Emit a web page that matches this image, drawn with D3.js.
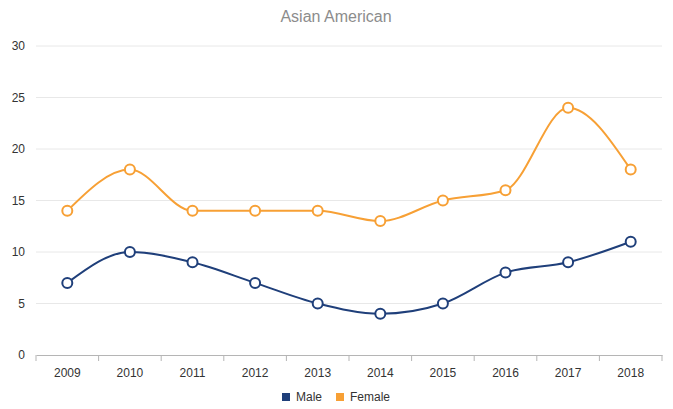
<!DOCTYPE html>
<html>
<head>
<meta charset="utf-8">
<script src="https://cdn.jsdelivr.net/npm/d3@7"></script>
<style>
  body { margin: 0; background: #fff; }
  svg { font-family: "Liberation Sans", Arial, sans-serif; }
</style>
</head>
<body>
<svg id="chart" width="673" height="409"></svg>
<script>
const years = ["2009","2010","2011","2012","2013","2014","2015","2016","2017","2018"];
const male = [7, 10, 9, 7, 5, 4, 5, 8, 9, 11];
const female = [14, 18, 14, 14, 14, 13, 15, 16, 24, 18];
const yTicks = [0, 5, 10, 15, 20, 25, 30];

const series = [
    {name: "Male", values: male, color: "#1f3f7a"},
    {name: "Female", values: female, color: "#f7a035"}
];

const svg = d3.select("#chart");
const plotLeft = 36, plotRight = 662, plotTop = 46, plotBottom = 355;

const x = d3.scaleBand().domain(years).range([plotLeft, plotRight]);
const y = d3.scaleLinear().domain([0, 30]).range([plotBottom, plotTop]);

// title
svg.append("text")
    .attr("x", 336).attr("y", 22)
    .attr("text-anchor", "middle")
    .attr("fill", "#8c8c8c")
    .attr("font-size", 16)
    .text("Asian American");

// gridlines
svg.append("g")
    .selectAll("line")
    .data(yTicks.filter(t => t > 0))
    .join("line")
    .attr("x1", plotLeft).attr("x2", plotRight)
    .attr("y1", d => y(d)).attr("y2", d => y(d))
    .attr("stroke", "#e8e8e8");

// y labels
svg.append("g")
    .selectAll("text")
    .data(yTicks)
    .join("text")
    .attr("x", 25)
    .attr("y", d => y(d) + 4)
    .attr("text-anchor", "end")
    .attr("font-size", 12)
    .attr("fill", "#333")
    .text(d => d);

// x axis
const xAxis = svg.append("g")
    .attr("transform", `translate(0,${plotBottom})`)
    .call(d3.axisBottom(x).tickSize(0).tickPadding(13));
xAxis.select(".domain").attr("stroke", "#b5b5b5");
xAxis.selectAll("text").attr("font-size", 12).attr("fill", "#333")
    .attr("font-family", "Liberation Sans, Arial, sans-serif");
xAxis.selectAll(".sep")
    .data(d3.range(years.length + 1))
    .join("line")
    .attr("class", "sep")
    .attr("x1", i => plotLeft + i * x.bandwidth())
    .attr("x2", i => plotLeft + i * x.bandwidth())
    .attr("y1", 0).attr("y2", 6)
    .attr("stroke", "#b5b5b5");

const line = d3.line()
    .x((d, i) => x(years[i]) + x.bandwidth() / 2)
    .y(d => y(d))
    .curve(d3.curveMonotoneX);

series.forEach(s => {
    svg.append("path")
        .attr("d", line(s.values))
        .attr("fill", "none")
        .attr("stroke", s.color)
        .attr("stroke-width", 2);

    svg.append("g")
        .selectAll("circle")
        .data(s.values)
        .join("circle")
        .attr("cx", (d, i) => x(years[i]) + x.bandwidth() / 2)
        .attr("cy", d => y(d))
        .attr("r", 5)
        .attr("fill", "#fff")
        .attr("stroke", s.color)
        .attr("stroke-width", 2);
});

// legend
const legendX = [282, 336];
const legend = svg.append("g");
series.forEach((s, i) => {
    legend.append("rect")
        .attr("x", legendX[i]).attr("y", 393)
        .attr("width", 8).attr("height", 8)
        .attr("fill", s.color);
    legend.append("text")
        .attr("x", legendX[i] + 14).attr("y", 401)
        .attr("font-size", 12)
        .attr("fill", "#333")
        .text(s.name);
});
</script>
</body>
</html>
